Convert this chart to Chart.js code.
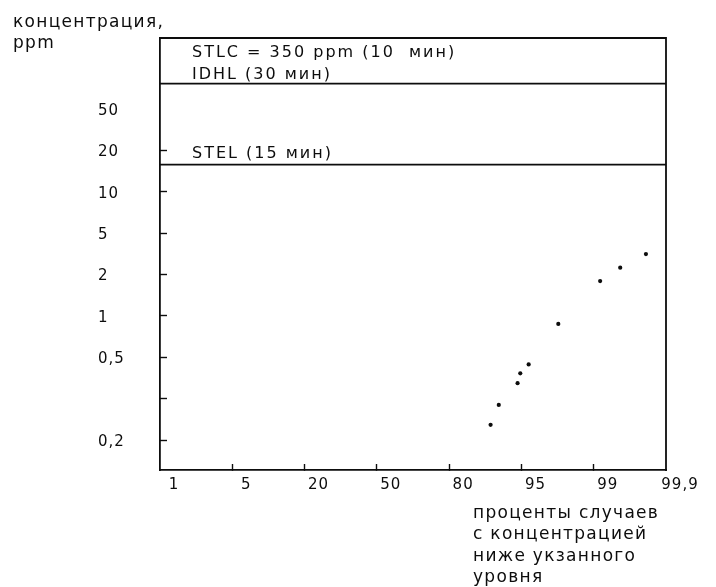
<!DOCTYPE html>
<html><head><meta charset="utf-8">
<script src="https://cdn.jsdelivr.net/npm/chart.js@4.4.0/dist/chart.umd.min.js"></script>
<style>html,body{margin:0;padding:0;background:#fff}#wrap{width:716px;height:587px}</style>
</head><body><div id="wrap"><canvas id="c" width="716" height="587"></canvas></div>
<script>
// ---- data ----
const xTickValues = [1, 5, 20, 50, 80, 95, 99, 99.9];
const xTickLabels = ['1', '5', '20', '50', '80', '95', '99', '99,9'];
const yTickValues = [0.2, 0.3, 0.5, 1, 2, 5, 10, 20, 50];
const yTickLabels = ['0,2', '', '0,5', '1', '2', '5', '10', '20', '50'];
const percentiles = [88.6, 90.3, 94.2, 94.76, 95.4, 97.04, 99.08, 99.33, 99.65];
const concentrations = [0.232, 0.282, 0.363, 0.410, 0.458, 0.874, 1.795, 2.33, 3.15];
const limitNames = ['IDHL (30 мин)', 'STEL (15 мин)'];
const limitValues = [88, 15.8];
const topNote = 'STLC = 350 ppm (10  мин)';
const yTitle = ['концентрация,', 'ppm'];
const xTitle = ['проценты случаев', 'с концентрацией', 'ниже укзанного', 'уровня'];

// the axes of the original are spaced one step per labelled value
function toXIndex(p) {
  const n = xTickValues.length;
  for (let k = 0; k < n - 1; k++) {
    const a = xTickValues[k], b = xTickValues[k + 1];
    if (p <= b || k === n - 2) return k + (p - a) / (b - a);
  }
}
function toYIndex(v) {
  const n = yTickValues.length;
  for (let k = 0; k < n - 1; k++) {
    const a = yTickValues[k], b = yTickValues[k + 1];
    if (v <= b || k === n - 2) return k + Math.log(v / a) / Math.log(b / a);
  }
}

const INK = '#0d0d0d';
const FONT = '"DejaVu Sans", "Liberation Sans", sans-serif';

const datasets = [{
  type: 'scatter',
  data: percentiles.map((p, i) => ({ x: toXIndex(p), y: toYIndex(concentrations[i]) })),
  pointRadius: 2.1, pointBackgroundColor: INK, pointBorderWidth: 0, showLine: false
}];
limitValues.forEach(v => datasets.push({
  type: 'line',
  data: [{ x: 0, y: toYIndex(v) }, { x: xTickValues.length - 1, y: toYIndex(v) }],
  borderColor: INK, borderWidth: 1.7, pointRadius: 0, fill: false
}));

const decor = {
  id: 'decor',
  beforeDraw(chart) { chart.ctx.letterSpacing = '1px'; },
  afterDraw(chart) {
    const { ctx, chartArea: a, scales } = chart;
    ctx.save();
    ctx.strokeStyle = INK; ctx.lineWidth = 1.8;
    ctx.beginPath();
    ctx.moveTo(a.left - 0.9, a.top); ctx.lineTo(a.right, a.top); ctx.lineTo(a.right, a.bottom + 0.9);
    ctx.stroke();
    ctx.fillStyle = INK; ctx.textBaseline = 'alphabetic'; ctx.textAlign = 'left';
    // labels inside the plot
    ctx.font = '16px ' + FONT; ctx.letterSpacing = '2px';
    const yIdhl = scales.y.getPixelForValue(toYIndex(limitValues[0]));
    const yStel = scales.y.getPixelForValue(toYIndex(limitValues[1]));
    const tx = a.left + 32;
    ctx.fillText(limitNames[0], tx, yIdhl - 5);
    ctx.fillText(topNote, tx, yIdhl - 27);
    ctx.fillText(limitNames[1], tx, yStel - 7);
    // axis titles
    ctx.font = '17px ' + FONT; ctx.letterSpacing = '1.3px';
    ctx.fillText(yTitle[0], 13, 27);
    ctx.fillText(yTitle[1], 13, 48);
    xTitle.forEach((t, i) => ctx.fillText(t, 473, 518 + i * 21.3));
    ctx.restore();
  }
};

new Chart(document.getElementById('c'), {
  data: { datasets },
  options: {
    responsive: false, animation: false, events: [],
    layout: { padding: { left: 98, right: 50, top: 38, bottom: 0 } },
    plugins: { legend: { display: false }, tooltip: { enabled: false } },
    scales: {
      x: {
        type: 'linear', min: 0, max: xTickValues.length - 1,
        afterBuildTicks: s => { s.ticks = xTickValues.map((_, i) => ({ value: i })); },
        afterFit: s => { s.height = 117; },
        ticks: {
          callback: v => xTickLabels[Math.round(v)], autoSkip: false, maxRotation: 0,
          font: { family: FONT, size: 15 }, color: INK, padding: 12, labelOffset: 14
        },
        grid: {
          drawOnChartArea: false, tickLength: -6, tickWidth: 1.4,
          tickColor: c => (c.index === 0 || c.index === xTickValues.length - 1) ? 'rgba(0,0,0,0)' : INK
        },
        border: { display: true, color: INK, width: 1.8 }
      },
      y: {
        type: 'linear', min: -0.725, max: 9.72,
        afterBuildTicks: s => { s.ticks = yTickValues.map((_, i) => ({ value: i })); },
        afterFit: s => { s.width = 62; },
        ticks: {
          callback: v => yTickLabels[Math.round(v)], autoSkip: false, crossAlign: 'far',
          font: { family: FONT, size: 15 }, color: INK, labelOffset: 2
        },
        grid: {
          drawOnChartArea: false, tickLength: -7, tickWidth: 1.4,
          tickColor: c => (c.index === yTickValues.length - 1) ? 'rgba(0,0,0,0)' : INK
        },
        border: { display: true, color: INK, width: 1.8 }
      }
    }
  },
  plugins: [decor]
});
</script></body></html>
